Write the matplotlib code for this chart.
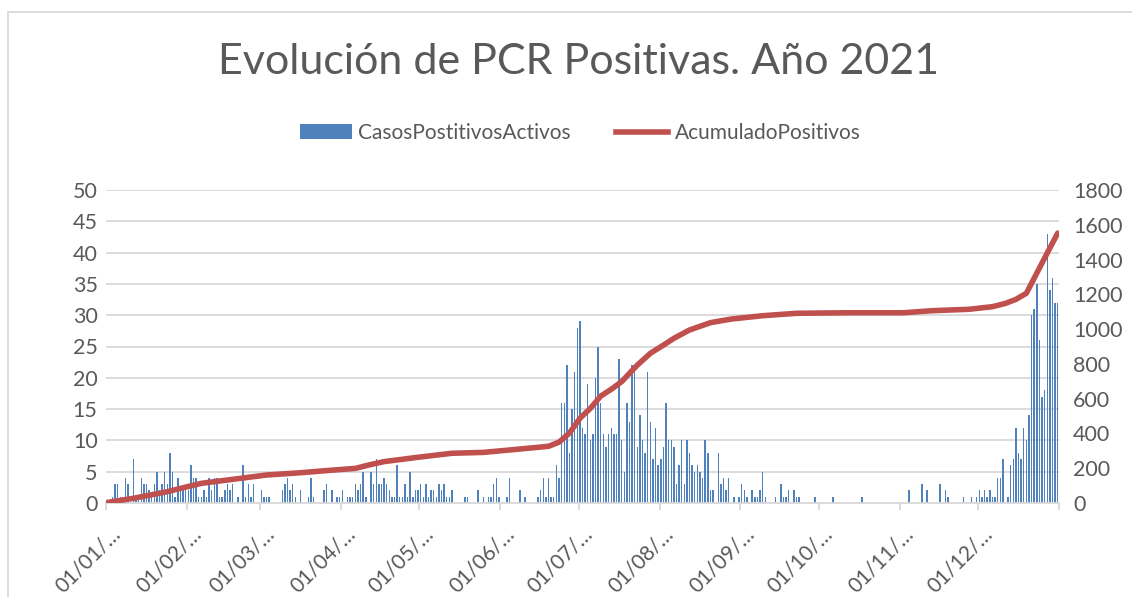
import numpy as np
import matplotlib
matplotlib.use('Agg')
import matplotlib.pyplot as plt
from matplotlib.patches import Patch, Rectangle
from matplotlib.lines import Line2D
from matplotlib.transforms import ScaledTranslation

plt.rcParams['font.family'] = ['Lato', 'DejaVu Sans']

# casos positivos activos por día (1 ene - 31 dic 2021)
ene = [0, 0, 1, 3, 3, 1, 1, 4, 3, 0, 7, 1, 1, 4, 3, 3, 2, 1, 3, 5, 2, 3, 5, 3, 8, 5, 1, 4, 2, 2, 2]
feb = [2, 6, 4, 4, 1, 1, 2, 1, 4, 2, 4, 4, 1, 1, 2, 3, 2, 3, 0, 1, 0, 6, 1, 3, 1, 3, 0, 0]
mar = [2, 1, 1, 1, 0, 0, 0, 0, 2, 3, 4, 2, 3, 1, 0, 2, 0, 0, 1, 4, 1, 0, 0, 0, 2, 3, 0, 2, 0, 1, 1]
abr = [2, 0, 1, 1, 1, 3, 2, 3, 5, 1, 0, 5, 3, 7, 3, 3, 4, 3, 2, 1, 1, 6, 1, 1, 3, 1, 5, 1, 2, 2]
may = [3, 1, 3, 1, 2, 2, 1, 3, 2, 3, 1, 1, 2, 0, 0, 0, 0, 1, 1, 0, 0, 0, 2, 0, 1, 0, 1, 1, 3, 4, 1]
jun = [0, 0, 1, 4, 0, 0, 0, 2, 0, 1, 0, 0, 0, 0, 1, 2, 4, 1, 4, 1, 1, 6, 4, 16, 16, 22, 8, 15, 21, 28]
jul = [29, 12, 11, 19, 10, 11, 20, 25, 16, 11, 9, 11, 12, 11, 11, 23, 10, 5, 16, 13, 22, 21, 9, 14,
       10, 8, 21, 13, 7, 12, 6]
ago = [7, 9, 16, 10, 10, 9, 3, 6, 10, 3, 10, 8, 6, 5, 6, 5, 4, 10, 8, 2, 2, 0, 8, 3, 4, 2, 4, 0, 1, 0, 1]
sep = [3, 2, 1, 0, 2, 1, 1, 2, 5, 1, 0, 0, 0, 1, 0, 3, 1, 1, 2, 0, 2, 1, 1, 0, 0, 0, 0, 0, 1, 0]
oct_ = [0, 0, 0, 0, 0, 1, 0, 0, 0, 0, 0, 0, 0, 0, 0, 0, 1, 0, 0, 0, 0, 0, 0, 0, 0, 0, 0, 0, 0, 0, 0]
nov = [0, 0, 0, 2, 0, 0, 0, 0, 3, 0, 2, 0, 0, 0, 0, 3, 0, 2, 1, 0, 0, 0, 0, 0, 1, 0, 0, 1, 0, 1]
dic = [2, 1, 2, 1, 2, 1, 1, 4, 4, 7, 0, 1, 6, 7, 12, 8, 7, 12, 10, 14, 30, 31, 35, 26, 17, 18, 43,
       34, 36, 32, 32]
casos = ene + feb + mar + abr + may + jun + jul + ago + sep + oct_ + nov + dic

# acumulado positivos (día del año, valor)
acum_dia = [0, 10, 23, 28, 36, 49, 61, 74, 87, 95, 100, 106, 119, 132, 144, 157, 169, 173, 177,
            181, 185, 189, 193, 197, 200, 203, 208, 213, 217, 223, 231, 239, 251, 264, 284, 305,
            316, 330, 339, 344, 348, 352, 356, 358, 364]
acum_val = [3, 27, 65, 84, 113, 138, 161, 174, 190, 199, 218, 238, 263, 286, 291, 309, 326, 350,
            402, 487, 544, 615, 654, 698, 746, 793, 861, 908, 947, 995, 1037, 1058, 1077, 1091,
            1094, 1094, 1106, 1114, 1129, 1148, 1171, 1206, 1322, 1380, 1552]

mes_inicio = [0, 31, 59, 90, 120, 151, 181, 212, 243, 273, 304, 334, 365]
mes_etiq = ['01/01/…', '01/02/…', '01/03/…', '01/04/…', '01/05/…', '01/06/…',
            '01/07/…', '01/08/…', '01/09/…', '01/10/…', '01/11/…', '01/12/…', '']

gris = '#595959'
azul = '#4f81bd'
rojo = '#c0504d'

fig = plt.figure(figsize=(11.32, 5.97), dpi=100)
ax = fig.add_axes([106 / 1132, 1 - 503 / 597, 953 / 1132, 313 / 597])
ax2 = ax.twinx()

dias = np.arange(len(casos)) + 0.5
ax.bar(dias, casos, width=0.55, color=azul, zorder=2)
ax2.plot(np.array(acum_dia) + 0.5, acum_val, color=rojo, lw=4, solid_capstyle='round', zorder=3)

ax.set_xlim(0, 365)
ax.set_ylim(0, 50)
ax.set_yticks(range(0, 51, 5))
ax2.set_ylim(0, 1800)
ax2.set_yticks(range(0, 1801, 200))
ax.grid(axis='y', color='#d9d9d9', lw=1.3, zorder=0)
ax.set_axisbelow(True)

for a in (ax, ax2):
    for s in a.spines.values():
        s.set_visible(False)
ax.spines['bottom'].set_visible(True)
ax.spines['bottom'].set_color('#d9d9d9')
ax.spines['bottom'].set_linewidth(1.3)

ax.set_xticks(mes_inicio)
ax.set_xticklabels(mes_etiq, rotation=45, ha='right', va='center', rotation_mode='anchor')
ax.tick_params(axis='x', length=5, width=1.3, color='#d9d9d9', labelsize=15,
               labelcolor=gris, pad=15)
for lbl in ax.get_xticklabels():
    lbl.set_transform(lbl.get_transform() + ScaledTranslation(0.11, 0, fig.dpi_scale_trans))
ax.tick_params(axis='y', length=0, labelsize=15.5, labelcolor=gris, pad=6)
ax2.tick_params(axis='y', length=0, labelsize=15.5, labelcolor=gris, pad=10)

fig.text(579 / 1132, 1 - 62 / 597, 'Evolución de PCR Positivas. Año 2021', ha='center',
         va='center', fontsize=31, color=gris)

handles = [Patch(facecolor=azul, edgecolor='none'), Line2D([], [], color=rojo, lw=4)]
fig.legend(handles, ['CasosPostitivosActivos', 'AcumuladoPositivos'], loc='center',
           bbox_to_anchor=(580 / 1132, 1 - 133 / 597), ncol=2, frameon=False, fontsize=15,
           labelcolor=gris, handlelength=2.5, handletextpad=0.3, columnspacing=2.2)

fig.add_artist(Rectangle((8 / 1132, -0.5), 2, 0.5 + 1 - 12 / 597, transform=fig.transFigure,
                         fill=False, edgecolor='#d9d9d9', lw=1.3))

fig.savefig('out.png', dpi=100)
